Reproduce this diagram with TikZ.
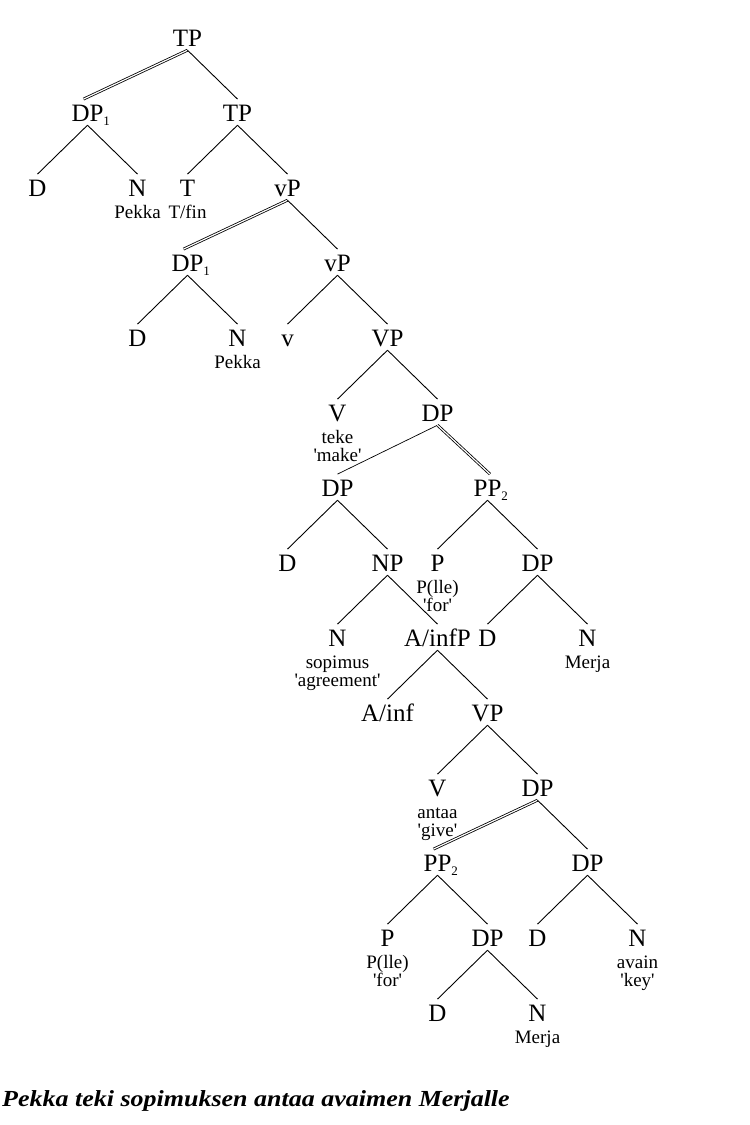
\documentclass[tikz,border=0pt]{standalone}
\usepackage{fontspec}
\setmainfont{Liberation Serif}
\usetikzlibrary{calc}
\newcommand{\subnum}[1]{\rlap{\raisebox{-3.5pt}{\fontsize{13}{13}\selectfont #1}}}
\newcommand{\sq}{\textquotesingle}
\tikzset{
  lab/.style={font=\fontsize{25}{25}\selectfont, anchor=base, text height=18.9pt, text depth=0pt, inner ysep=3.4pt, inner xsep=0pt},
  word/.style={font=\fontsize{19}{19}\selectfont, anchor=base, inner sep=0pt},
  br/.style={line width=0.9pt},
  thinbr/.style={line width=0.7pt},
  dbl/.style={double, double distance=1.2pt, line width=0.8pt}
}
\begin{document}
\begin{tikzpicture}[x=1pt,y=-1pt]
\useasboundingbox (0,0) rectangle (750,1125);
% row baselines: 46.6 + 75(r-1)
\node[lab] (tp1) at (187.5,46.6) {TP};
\node[lab] (dp1) at (87.5,121.6) {DP\subnum{1}};
\node[lab] (tp2) at (237.5,121.6) {TP};
\node[lab] (d1) at (37.5,196.6) {D};
\node[lab] (n1) at (137.5,196.6) {N};
\node[lab] (t1) at (187.5,196.6) {T};
\node[lab] (vp1) at (287.5,196.6) {vP};
\node[word] (w1) at (137.5,218.3) {Pekka};
\node[word] (w2) at (187.5,218.3) {T/fin};
\node[lab] (dp2) at (187.5,271.6) {DP\subnum{1}};
\node[lab] (vp2) at (337.5,271.6) {vP};
\node[lab] (d2) at (137.5,346.6) {D};
\node[lab] (n2) at (237.5,346.6) {N};
\node[lab] (v1) at (287.5,346.6) {v};
\node[lab] (vp3) at (387.5,346.6) {VP};
\node[word] (w3) at (237.5,368.3) {Pekka};
\node[lab] (V1) at (337.5,421.6) {V};
\node[lab] (dp3) at (437.5,421.6) {DP};
\node[word] (w4) at (337.5,443.3) {teke};
\node[word] (w5) at (337.5,461.6) {\sq make\sq};
\node[lab] (dp4) at (337.5,496.6) {DP};
\node[lab] (pp1) at (487.5,496.6) {PP\subnum{2}};
\node[lab] (d3) at (287.5,571.6) {D};
\node[lab] (np1) at (387.5,571.6) {NP};
\node[lab] (p1) at (437.5,571.6) {P};
\node[lab] (dp5) at (537.5,571.6) {DP};
\node[word] (w6) at (437.5,593.3) {P(lle)};
\node[word] (w7) at (437.5,611.6) {\sq for\sq};
\node[lab] (n3) at (337.5,646.6) {N};
\node[lab] (ainfp) at (437.5,646.6) {A/infP};
\node[lab] (d4) at (487.5,646.6) {D};
\node[lab] (n4) at (587.5,646.6) {N};
\node[word] (w8) at (337.5,668.3) {sopimus};
\node[word] (w9) at (337.5,686.6) {\sq agreement\sq};
\node[word] (w10) at (587.5,668.3) {Merja};
\node[lab] (ainf) at (387.5,721.6) {A/inf};
\node[lab] (vp4) at (487.5,721.6) {VP};
\node[lab] (V2) at (437.5,796.6) {V};
\node[lab] (dp6) at (537.5,796.6) {DP};
\node[word] (w11) at (437.5,818.3) {antaa};
\node[word] (w12) at (437.5,836.6) {\sq give\sq};
\node[lab] (pp2) at (437.5,871.6) {PP\subnum{2}};
\node[lab] (dp7) at (587.5,871.6) {DP};
\node[lab] (p2) at (387.5,946.6) {P};
\node[lab] (dp8) at (487.5,946.6) {DP};
\node[lab] (d5) at (537.5,946.6) {D};
\node[lab] (n5) at (637.5,946.6) {N};
\node[word] (w13) at (387.5,968.3) {P(lle)};
\node[word] (w14) at (387.5,986.6) {\sq for\sq};
\node[word] (w15) at (637.5,968.3) {avain};
\node[word] (w16) at (637.5,986.6) {\sq key\sq};
\node[lab] (d6) at (437.5,1021.6) {D};
\node[lab] (n6) at (537.5,1021.6) {N};
\node[word] (w17) at (537.5,1043.3) {Merja};
\node[anchor=base west, inner sep=0pt, font=\fontsize{23}{23}\selectfont\bfseries\itshape] (cap) at (2,1106.7) {\scalebox{1.13}[1]{Pekka teki sopimuksen antaa avaimen Merjalle}};
% branches
\draw[dbl] (tp1.south) -- ($(dp1.north)+(-4,0)$);
\draw[br] (tp1.south) -- (tp2.north);
\draw[br] (dp1.south) -- (d1.north);
\draw[br] (dp1.south) -- (n1.north);
\draw[br] (tp2.south) -- (t1.north);
\draw[br] (tp2.south) -- (vp1.north);
\draw[dbl] (vp1.south) -- ($(dp2.north)+(-4,0)$);
\draw[br] (vp1.south) -- (vp2.north);
\draw[br] (dp2.south) -- (d2.north);
\draw[br] (dp2.south) -- (n2.north);
\draw[br] (vp2.south) -- (v1.north);
\draw[br] (vp2.south) -- (vp3.north);
\draw[br] (vp3.south) -- (V1.north);
\draw[br] (vp3.south) -- (dp3.north);
\draw[thinbr] (dp3.south) -- (dp4.north);
\draw[dbl] (dp3.south) -- ($(pp1.north)+(2.5,0)$);
\draw[br] (dp4.south) -- (d3.north);
\draw[br] (dp4.south) -- (np1.north);
\draw[br] (pp1.south) -- (p1.north);
\draw[br] (pp1.south) -- (dp5.north);
\draw[br] (np1.south) -- (n3.north);
\draw[br] (np1.south) -- (ainfp.north);
\draw[br] (dp5.south) -- (d4.north);
\draw[br] (dp5.south) -- (n4.north);
\draw[br] (ainfp.south) -- (ainf.north);
\draw[br] (ainfp.south) -- (vp4.north);
\draw[br] (vp4.south) -- (V2.north);
\draw[br] (vp4.south) -- (dp6.north);
\draw[dbl] (dp6.south) -- ($(pp2.north)+(-4,0)$);
\draw[br] (dp6.south) -- (dp7.north);
\draw[br] (pp2.south) -- (p2.north);
\draw[br] (pp2.south) -- (dp8.north);
\draw[br] (dp7.south) -- (d5.north);
\draw[br] (dp7.south) -- (n5.north);
\draw[br] (dp8.south) -- (d6.north);
\draw[br] (dp8.south) -- (n6.north);
\end{tikzpicture}
\end{document}
